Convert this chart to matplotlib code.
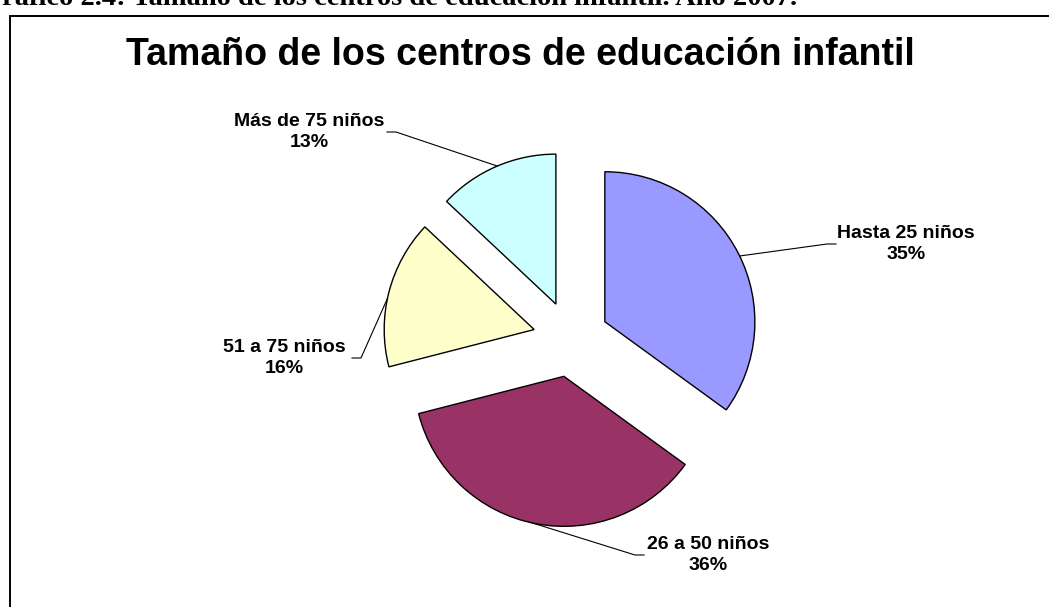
import numpy as np
import matplotlib
matplotlib.use("Agg")
import matplotlib.pyplot as plt
from matplotlib.patches import Rectangle

# data
categories = ["Hasta 25 niños", "26 a 50 niños", "51 a 75 niños", "Más de 75 niños"]
shares = [35, 36, 16, 13]
colors = ["#9999FF", "#993366", "#FFFFCC", "#CCFFFF"]

title = "Tamaño de los centros de educación infantil"
caption = "Gráfico 2.4: Tamaño de los centros de educación infantil. Año 2007."

W, H = 1049, 607


def main():
    fig = plt.figure(figsize=(W / 100, H / 100), dpi=100)
    ax = fig.add_axes([0, 0, 1, 1])
    ax.set_xlim(0, W)
    ax.set_ylim(0, H)
    ax.axis("off")

    # frame around the chart (runs off the right and bottom edges)
    ax.add_patch(Rectangle((10, -20), W + 40, H - 16 + 20, fill=False,
                           edgecolor="black", linewidth=1.4))

    # caption cut off at the top of the image
    ax.text(-20, H - 5, caption, family="Liberation Serif", weight="bold",
            fontsize=20.5, ha="left", va="baseline")

    ax.text(520, H - 55, title, family="Liberation Sans", weight="bold",
            fontsize=27, ha="center", va="center")

    wedges, _ = ax.pie(shares, colors=colors, startangle=90, counterclock=False,
                       explode=[38] * len(shares), radius=150, center=(571, H - 339),
                       wedgeprops=dict(edgecolor="black", linewidth=1.0))
    ax.set_xlim(0, W)
    ax.set_ylim(0, H)
    ax.set_aspect("auto")

    # label placement: angle on the arc, text centre, end of the leader line
    anchor_angles = [26, -102, 168, 113]
    label_pos = [(906, 244), (708, 555), (284, 358), (309, 132)]
    text_edge = [836, 644, 352, 387]

    for w, cat, val, ang, (tx, ty), ex in zip(wedges, categories, shares,
                                             anchor_angles, label_pos, text_edge):
        cx, cy = w.center
        px = cx + w.r * np.cos(np.radians(ang))
        py = cy + w.r * np.sin(np.radians(ang))
        elbow = ex - 9 if ex < tx else ex + 9
        ax.plot([px, elbow, ex], [py, H - ty, H - ty], color="black", linewidth=0.8)
        ax.text(tx, H - ty, f"{cat}\n{val}%", family="Liberation Sans", weight="bold",
                fontsize=14, ha="center", va="center", linespacing=1.3)

    fig.savefig("out.png", dpi=100)


if __name__ == "__main__":
    main()
